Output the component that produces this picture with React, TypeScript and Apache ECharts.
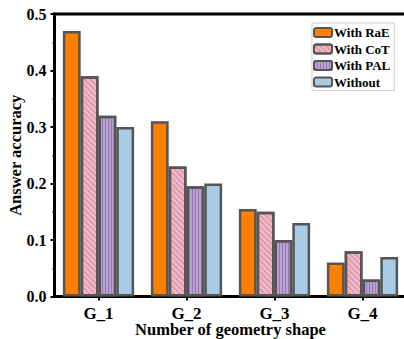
import React, { useEffect, useRef } from "react";
import * as echarts from "echarts";

const categories = ["G_1", "G_2", "G_3", "G_4"];
const seriesNames = ["With RaE", "With CoT", "With PAL", "Without"];
const raeValues = [0.47, 0.31, 0.155, 0.06];
const cotValues = [0.39, 0.23, 0.15, 0.08];
const palValues = [0.32, 0.195, 0.1, 0.03];
const withoutValues = [0.3, 0.2, 0.13, 0.07];

const FONT = "'Liberation Serif', 'Times New Roman', serif";
const BORDER = "#555555";

export default function App() {
  const ref = useRef<HTMLDivElement>(null);
  useEffect(() => {
    if (!ref.current) return;
    const chart = echarts.init(ref.current, null, { renderer: "svg" });
    const base = {
      type: "bar" as const,
      barGap: "0%",
      barCategoryGap: "19%",
    };
    chart.setOption({
      animation: false,
      grid: {
        left: 54.5,
        top: 14,
        width: 352,
        bottom: 42.5,
        outerBoundsMode: "none",
        containLabel: false,
        show: true,
        borderColor: "#000",
        borderWidth: 3,
        backgroundColor: "transparent",
      },
      legend: {
        data: seriesNames,
        orient: "vertical",
        left: 312,
        top: 23,
        itemWidth: 18,
        itemHeight: 9,
        itemGap: 3.5,
        padding: [3, 4, 2, 1],
        borderColor: "#cccccc",
        borderWidth: 1,
        backgroundColor: "#fff",
        textStyle: { fontFamily: FONT, fontWeight: "bold", fontSize: 13, color: "#000", padding: [0, 0, 0, -3] },
      },
      xAxis: {
        type: "category",
        data: categories,
        name: "Number of geometry shape",
        nameLocation: "middle",
        nameGap: 24.5,
        nameMoveOverlap: false,
        nameTextStyle: { fontFamily: FONT, fontWeight: "bold", fontSize: 16.5, color: "#000" },
        axisLine: { lineStyle: { color: "#000", width: 3 } },
        axisTick: { show: true, alignWithLabel: true, length: 4, lineStyle: { color: "#000", width: 2 } },
        axisLabel: { fontFamily: FONT, fontWeight: "bold", fontSize: 17, color: "#000", margin: 8 },
        splitLine: { show: false },
      },
      yAxis: {
        type: "value",
        min: 0,
        max: 0.5,
        interval: 0.1,
        name: "Answer accuracy",
        nameLocation: "middle",
        nameGap: 31,
        nameMoveOverlap: false,
        nameTextStyle: { fontFamily: FONT, fontWeight: "bold", fontSize: 16.5, color: "#000" },
        axisLine: { show: true, lineStyle: { color: "#000", width: 3 } },
        axisTick: { show: true, inside: false, length: 4, lineStyle: { color: "#000", width: 2 } },
        minorTick: { show: true, splitNumber: 2, length: 2, lineStyle: { color: "#000", width: 1.5 } },
        axisLabel: {
          fontFamily: FONT,
          fontWeight: "bold",
          fontSize: 16,
          color: "#000",
          margin: 8,
          formatter: (v: number) => v.toFixed(1),
        },
        splitLine: { show: false },
      },
      series: [
        {
          ...base,
          name: seriesNames[0],
          data: raeValues,
          itemStyle: { color: "#FF8000", borderColor: BORDER, borderWidth: 2.5 },
        },
        {
          ...base,
          name: seriesNames[1],
          data: cotValues,
          itemStyle: {
            color: "#F2B6C6",
            borderColor: BORDER,
            borderWidth: 2.5,
            decal: {
              symbol: "rect",
              symbolSize: 1,
              color: "rgba(190,120,140,0.7)",
              dashArrayX: [1, 0],
              dashArrayY: [1, 3],
              rotation: Math.PI / 4,
            },
          },
        },
        {
          ...base,
          name: seriesNames[2],
          data: palValues,
          itemStyle: {
            color: "#BBA3CF",
            borderColor: BORDER,
            borderWidth: 2.5,
            decal: {
              symbol: "rect",
              symbolSize: 1,
              color: "rgba(130,100,165,0.7)",
              dashArrayX: [1, 2],
              dashArrayY: [4, 0],
              rotation: 0,
            },
          },
        },
        {
          ...base,
          name: seriesNames[3],
          data: withoutValues,
          itemStyle: { color: "#A9CBE6", borderColor: BORDER, borderWidth: 2.5 },
        },
      ],
    });
    return () => chart.dispose();
  }, []);
  return (
    <div
      ref={ref}
      style={{ position: "fixed", left: 0, top: 0, width: 404, height: 339, background: "#fff" }}
    />
  );
}
